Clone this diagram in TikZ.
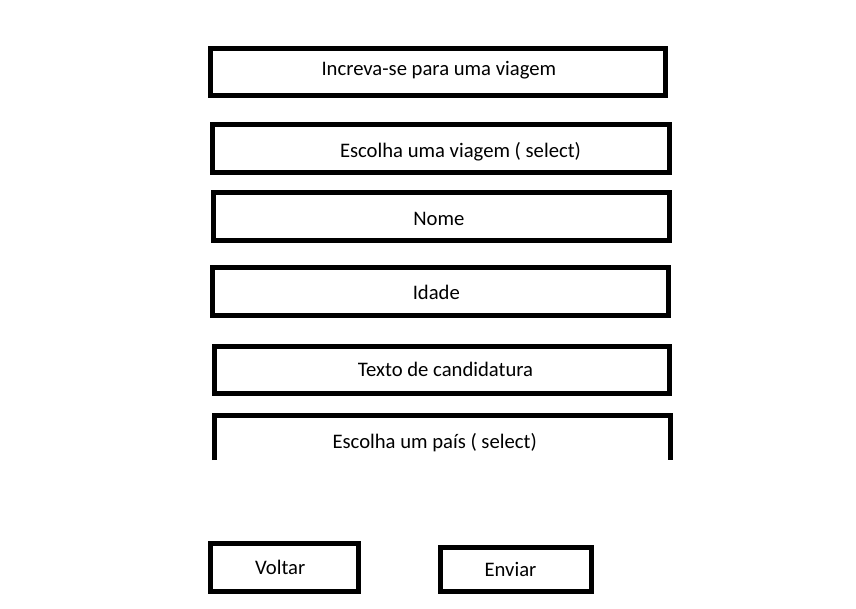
\documentclass[tikz,border=0pt]{standalone}
\usepackage{fontspec}
\setmainfont{Carlito}
\begin{document}
\begin{tikzpicture}[x=0.75pt,y=-0.75pt,
  box/.style n args={2}{draw=black, line width=3.75pt, inner sep=0pt,
     minimum width=#1*0.75pt, minimum height=#2*0.75pt},
  lbl/.style={anchor=base, inner sep=0pt, font=\fontsize{15.5pt}{18pt}\selectfont}]
\useasboundingbox[fill=white] (0,0) rectangle (856,608);
% boxes
\node[box={455}{47.3}] (b1) at (438,72.2) {};
\node[box={456.5}{48.5}] (b2) at (440.75,148.25) {};
\node[box={455.5}{47.5}] (b3) at (441.25,216.25) {};
\node[box={455.5}{47.5}] (b4) at (440.25,291.25) {};
\node[box={455}{46.7}] (b5) at (441.5,370.15) {};
\coordinate (p1) at (214.8,460);
\coordinate (p2) at (214.8,415.8);
\coordinate (p3) at (670.2,415.8);
\coordinate (p4) at (670.2,460);
\draw[line width=3.75pt, line cap=butt, line join=miter] (p1) -- (p2) -- (p3) -- (p4);
\node[box={147.7}{48}] (bv) at (284.65,567.5) {};
\node[box={151.3}{44}] (be) at (515.85,569.5) {};
% labels
\node[lbl] (t1) at (438.8,75) {Increva-se para uma viagem};
\node[lbl] (t2) at (460.5,157.6) {Escolha uma viagem ( select)};
\node[lbl] (t3) at (438.8,225) {Nome};
\node[lbl] (t4) at (436.3,299) {Idade};
\node[lbl] (t5) at (445.5,376.7) {Texto de candidatura};
\node[lbl] (t6) at (434.7,448.3) {Escolha um país ( select)};
\node[lbl] (tv) at (280.2,574) {Voltar};
\node[lbl] (te) at (510.5,576) {Enviar};
\end{tikzpicture}
\end{document}
